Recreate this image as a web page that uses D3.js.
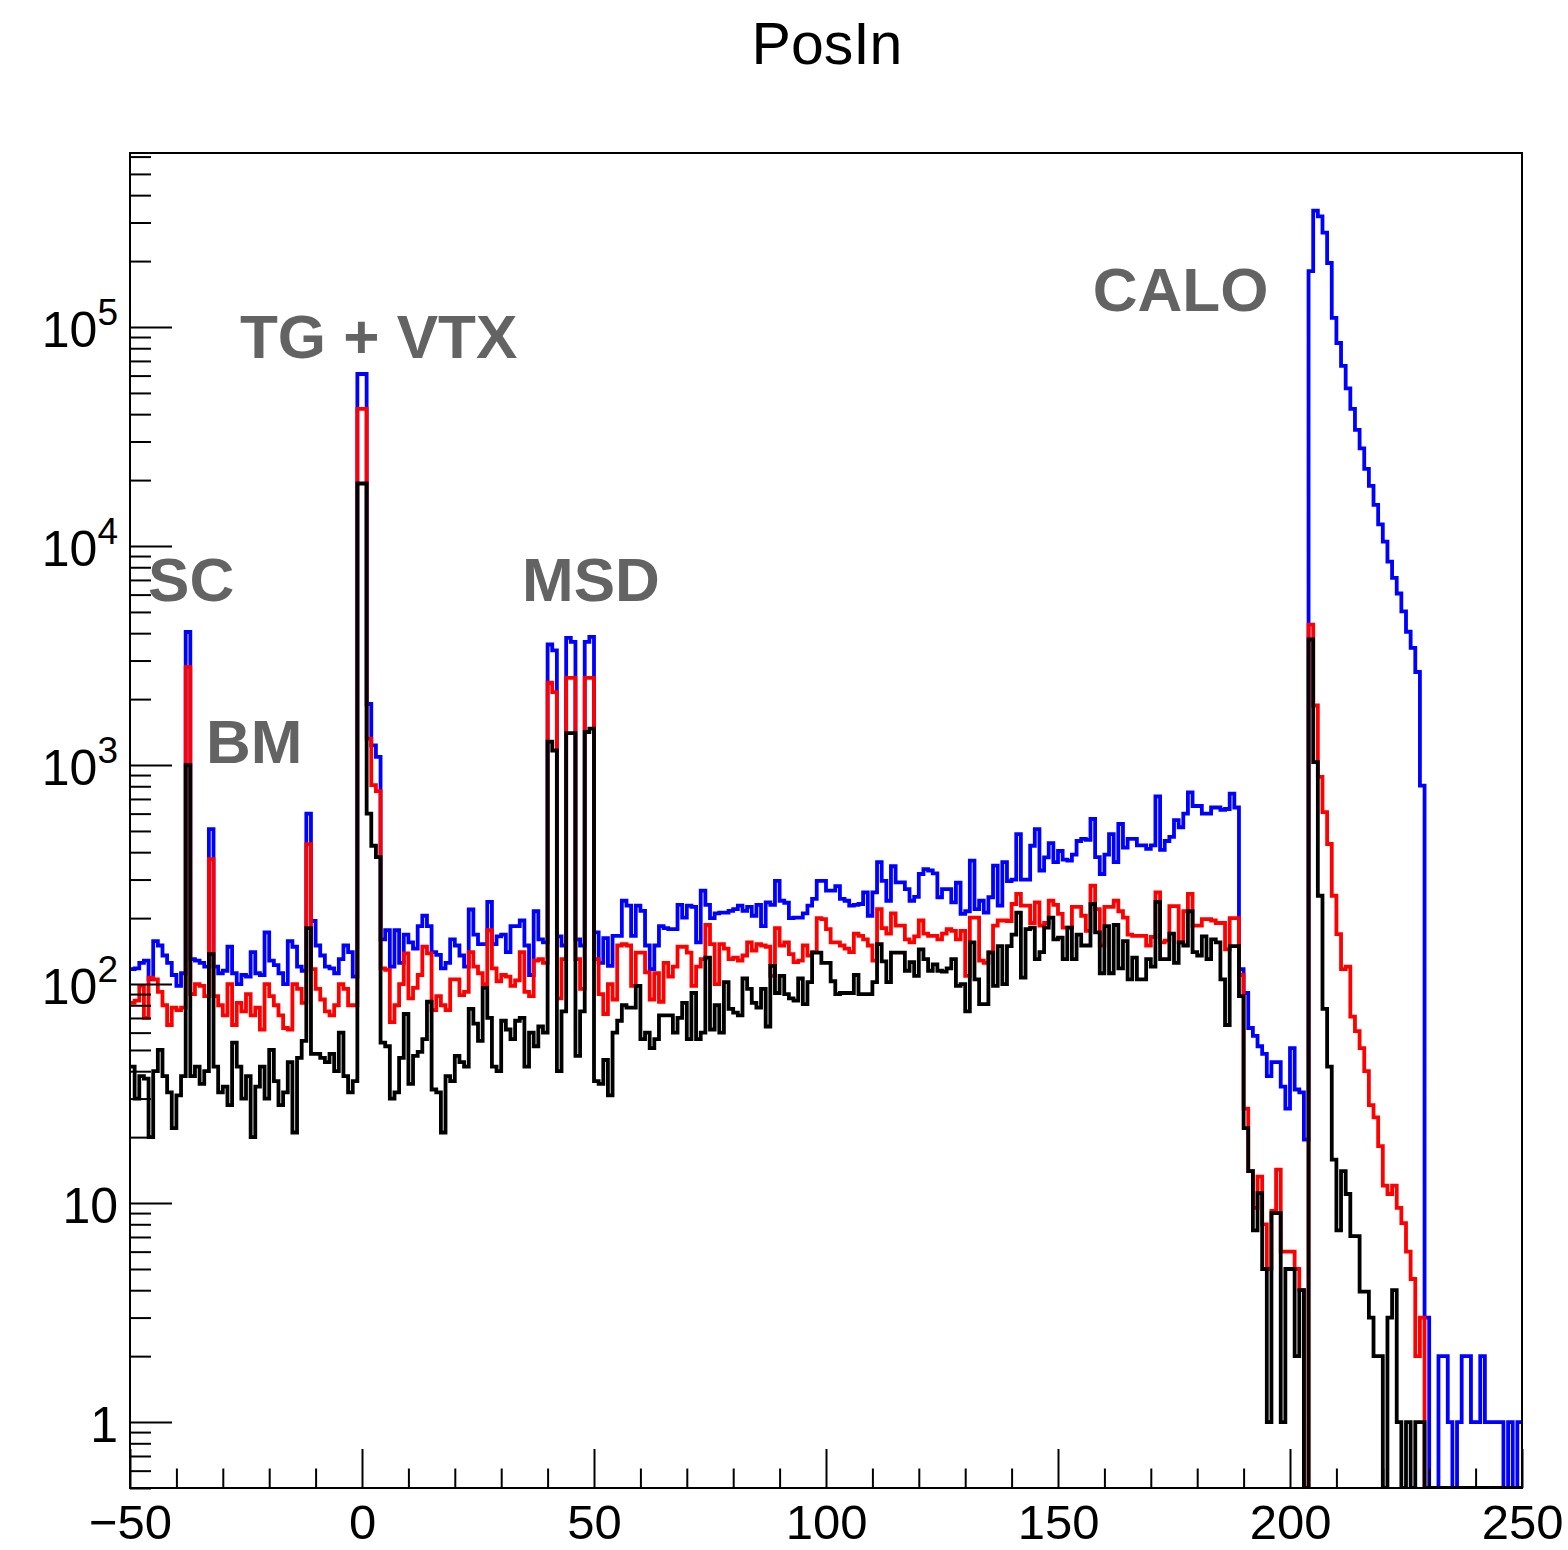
<!DOCTYPE html>
<html>
<head>
<meta charset="utf-8">
<script src="https://cdn.jsdelivr.net/npm/d3@7"></script>
<style>
  body { margin: 0; background: #fff; }
  svg { display: block; font-family: "Liberation Sans", Arial, Helvetica, sans-serif; }
</style>
</head>
<body>
<svg width="1568" height="1550"></svg>
<script>
// Histogram binning: 300 bins of width 1 from -50 to 250
const xLow = -50, binWidth = 1;

// Blue series (all hits)
const blueCounts = [
  117, 118, 125, 128, 105, 157, 150, 135, 125, 110,
  98, 112, 4050, 130, 128, 125, 120, 510, 120, 112,
  115, 148, 112, 100, 110, 108, 140, 112, 110, 172,
  128, 122, 112, 100, 157, 148, 120, 115, 600, 194,
  150, 135, 120, 118, 112, 130, 150, 140, 108, 61000,
  61000, 1900, 1230, 1090, 160, 176, 120, 176, 125, 168,
  155, 145, 184, 205, 184, 140, 136, 118, 125, 160,
  150, 135, 120, 219, 168, 152, 152, 237, 152, 165,
  168, 140, 184, 184, 195, 150, 110, 215, 160, 155,
  3550, 3340, 165, 150, 3810, 3650, 160, 150, 3650, 3845,
  172, 125, 162, 121, 166, 166, 240, 228, 166, 228,
  216, 150, 117, 150, 184, 180, 178, 178, 230, 201,
  228, 225, 155, 267, 230, 200, 210, 212, 212, 216,
  220, 228, 216, 225, 205, 230, 184, 236, 230, 296,
  240, 235, 200, 201, 201, 210, 228, 245, 296, 296,
  267, 267, 280, 245, 240, 228, 230, 232, 262, 205,
  262, 360, 296, 240, 345, 291, 291, 271, 240, 250,
  318, 335, 330, 320, 249, 271, 271, 236, 290, 209,
  215, 366, 220, 240, 212, 249, 347, 228, 360, 295,
  300, 484, 300, 300, 428, 510, 330, 379, 440, 360,
  405, 370, 366, 390, 450, 460, 455, 567, 380, 318,
  390, 484, 360, 538, 420, 460, 460, 430, 430, 414,
  430, 720, 410, 450, 470, 560, 520, 600, 750, 650,
  650, 600, 600, 640, 640, 625, 630, 740, 640, 117,
  91, 63, 58, 52, 48, 38, 44, 44, 34, 27,
  51, 33, 32, 19.5, 180000, 340000, 320000, 270000, 196000, 110000,
  84500, 66400, 52500, 42300, 33900, 27900, 22500, 18800, 15400, 12560,
  10470, 8480, 7160, 6070, 5030, 4060, 3430, 2660, 806, 3,
  0, 0, 2, 2, 1, 0, 1, 2, 2, 1,
  1, 2, 1, 1, 1, 1, 0, 1, 0, 1
];

// Red series
const redCounts = [
  82, 84, 98, 70, 107, 105, 92, 80, 65, 78,
  76, 78, 2800, 90, 100, 98, 88, 372, 88, 80,
  72, 100, 65, 82, 75, 90, 72, 78, 62, 100,
  88, 80, 72, 63, 62, 100, 95, 82, 435, 117,
  95, 85, 75, 72, 80, 100, 95, 80, 80, 42300,
  42300, 1320, 810, 760, 118, 116, 67, 80, 100, 138,
  86, 96, 110, 148, 138, 76, 88, 80, 76, 105,
  105, 89, 92, 140, 120, 112, 100, 176, 118, 103,
  110, 108, 98, 104, 140, 92, 88, 128, 130, 125,
  2375, 2150, 86, 130, 2500, 2500, 130, 95, 2500, 2500,
  130, 90, 73, 100, 85, 150, 152, 150, 98, 139,
  139, 113, 85, 112, 83, 125, 108, 120, 148, 148,
  139, 98, 120, 130, 186, 152, 100, 152, 145, 130,
  132, 128, 135, 155, 142, 152, 150, 148, 109, 180,
  150, 155, 137, 126, 128, 150, 135, 140, 200, 198,
  178, 155, 155, 150, 145, 140, 170, 166, 160, 150,
  128, 220, 180, 170, 210, 185, 185, 160, 155, 165,
  195, 170, 166, 166, 160, 170, 178, 175, 160, 175,
  109, 201, 201, 128, 125, 140, 185, 195, 195, 194,
  232, 258, 228, 228, 190, 236, 185, 190, 240, 230,
  209, 181, 181, 225, 225, 205, 175, 281, 220, 150,
  225, 225, 240, 215, 201, 168, 166, 166, 166, 150,
  164, 262, 155, 158, 227, 227, 155, 215, 258, 185,
  185, 198, 198, 195, 190, 190, 144, 200, 200, 110,
  27, 14, 9.5, 13.2, 8, 5, 9.2, 14.2, 6, 6,
  6, 5, 4, 0, 4380, 1870, 883, 609, 436, 253,
  169, 117, 120, 71, 61, 51, 40, 28, 24.6, 18.2,
  12, 11, 12, 9.5, 8.1, 6, 4.5, 2, 3, 0,
  0, 0, 0, 0, 0, 0, 0, 0, 0, 0,
  0, 0, 0, 0, 0, 0, 0, 0, 0, 0
];

// Black series
const blackCounts = [
  42, 30, 38, 37, 20, 40, 50, 38, 32, 22,
  31, 38, 1000, 38, 42, 35, 40, 137, 42, 32,
  34, 28, 54, 42, 30, 38, 20, 34, 42, 30,
  50, 36, 28, 32, 44, 21, 46, 55, 180, 48,
  48, 46, 44, 48, 40, 60, 38, 32, 36, 19300,
  19300, 600, 428, 380, 54, 52, 30, 32, 46, 73,
  35, 47, 49, 56, 83, 33, 32, 21, 38, 36,
  47, 44, 42, 77, 66, 55, 96, 70, 42, 40,
  68, 62, 56, 68, 70, 42, 60, 52, 64, 60,
  1280, 1165, 40, 75, 1400, 1400, 47, 75, 1415, 1465,
  36, 35, 45, 31, 60, 68, 80, 78, 78, 98,
  56, 60, 51, 56, 72, 72, 72, 60, 70, 82,
  56, 91, 56, 60, 132, 62, 80, 60, 102, 77,
  74, 72, 106, 95, 82, 78, 95, 64, 121, 91,
  109, 90, 86, 84, 106, 81, 102, 139, 139, 125,
  125, 103, 90, 91, 91, 91, 110, 90, 90, 90,
  102, 152, 127, 102, 139, 139, 139, 115, 126, 109,
  144, 130, 115, 123, 115, 114, 118, 130, 98, 100,
  75, 155, 105, 81, 81, 139, 98, 149, 100, 149,
  168, 212, 107, 178, 181, 130, 140, 181, 201, 160,
  163, 130, 181, 130, 168, 150, 150, 232, 172, 112,
  184, 112, 186, 118, 157, 105, 132, 105, 105, 130,
  120, 237, 130, 130, 170, 125, 155, 150, 215, 140,
  135, 165, 130, 160, 155, 105, 65, 149, 149, 88,
  22, 14, 7.5, 11.1, 5, 1, 9, 9, 1, 5,
  5, 2, 4, 0, 3750, 1030, 253, 77, 42, 15.8,
  7.5, 14, 11, 7.06, 7.06, 3.94, 3.94, 3, 2, 2,
  0, 3, 4, 1, 0, 1, 0, 1, 1, 0,
  0, 0, 0, 0, 0, 0, 0, 0, 0, 0,
  0, 0, 0, 0, 0, 0, 0, 0, 0, 0
];

// Axis ticks
const xTickValues = [-50, 0, 50, 100, 150, 200, 250];
const xTickLabels = ["\u221250", "0", "50", "100", "150", "200", "250"];
const yTickExponents = [0, 1, 2, 3, 4, 5];

// Detector labels (anchored at x position / count level of their baseline)
const labels = [
  { text: "SC", x: -46.1, y: 5600 },
  { text: "BM", x: -33.6, y: 1020 },
  { text: "TG + VTX", x: -26.3, y: 72000 },
  { text: "MSD", x: 34.5, y: 5600 },
  { text: "CALO", x: 157.5, y: 118000 }
];

const frame = { left: 130, right: 1522, top: 153, bottom: 1488 };
const yMin = 0.5, yMax = 623000;

const svg = d3.select("svg");

const x = d3.scaleLinear()
  .domain([xLow, xLow + binWidth * blueCounts.length])
  .range([frame.left, frame.right]);

const y = d3.scaleLog()
  .domain([yMin, yMax])
  .range([frame.bottom, frame.top]);

// Title
svg.append("text")
  .attr("x", 827)
  .attr("y", 64)
  .attr("text-anchor", "middle")
  .attr("font-size", 59)
  .text("PosIn");

svg.append("clipPath").attr("id", "frameClip")
  .append("rect")
  .attr("x", frame.left).attr("y", frame.top)
  .attr("width", frame.right - frame.left)
  .attr("height", frame.bottom - frame.top);

// step outline of a histogram
function stepPath(counts) {
  const p = d3.path();
  counts.forEach((v, i) => {
    const x0 = x(xLow + i * binWidth), x1 = x(xLow + (i + 1) * binWidth);
    const yy = y(Math.max(v, yMin));
    if (i === 0) p.moveTo(x0, yy); else p.lineTo(x0, yy);
    p.lineTo(x1, yy);
  });
  return p.toString();
}

const plot = svg.append("g").attr("clip-path", "url(#frameClip)");
[[blueCounts, "#0000ff"], [redCounts, "#ff0000"], [blackCounts, "#000000"]].forEach(([counts, color]) => {
  plot.append("path")
    .attr("d", stepPath(counts))
    .attr("fill", "none")
    .attr("stroke", color)
    .attr("stroke-width", 3.8)
    .attr("stroke-linejoin", "miter");
});

// Y axis (ticks pointing into the frame)
const yMinor = [];
for (let e = -1; e <= 5; e++) {
  for (let d = 2; d <= 9; d++) {
    const v = d * Math.pow(10, e);
    if (v >= yMin && v <= yMax) yMinor.push(v);
  }
}
svg.append("g")
  .attr("transform", `translate(${frame.left},0)`)
  .call(d3.axisLeft(y).tickValues(yMinor).tickSize(-21).tickFormat(""));
const yMajorAxis = svg.append("g")
  .attr("transform", `translate(${frame.left},0)`)
  .call(d3.axisLeft(y)
    .tickValues(yTickExponents.map(e => Math.pow(10, e)))
    .tickSize(-42)
    .tickPadding(12));

yMajorAxis.selectAll("text")
  .attr("font-size", 50)
  .attr("font-family", "Liberation Sans, Arial, sans-serif")
  .attr("fill", "#000")
  .attr("dy", "0.38em")
  .each(function(d) {
    const e = Math.round(Math.log10(d));
    const t = d3.select(this).text(null);
    if (e === 0) { t.text("1"); return; }
    if (e === 1) { t.text("10"); return; }
    t.append("tspan").text("10");
    t.append("tspan").attr("dy", "-0.58em").attr("font-size", 37).text(e);
  });

// X axis (ticks pointing into the frame)
const xMinor = d3.range(-40, 250, 10).filter(v => v % 50 !== 0);
svg.append("g")
  .attr("transform", `translate(0,${frame.bottom})`)
  .call(d3.axisBottom(x).tickValues(xMinor).tickSize(-19.5).tickFormat(""));
const xMajorAxis = svg.append("g")
  .attr("transform", `translate(0,${frame.bottom})`)
  .call(d3.axisBottom(x)
    .tickValues(xTickValues)
    .tickSize(-39)
    .tickPadding(16)
    .tickFormat((d, i) => xTickLabels[i]));
xMajorAxis.selectAll("text")
  .attr("font-size", 49)
  .attr("font-family", "Liberation Sans, Arial, sans-serif")
  .attr("fill", "#000");

svg.selectAll(".domain").remove();
svg.selectAll(".tick line").attr("stroke", "#000").attr("stroke-width", 2);

// Frame
svg.append("rect")
  .attr("x", frame.left).attr("y", frame.top)
  .attr("width", frame.right - frame.left)
  .attr("height", frame.bottom - frame.top)
  .attr("fill", "none")
  .attr("stroke", "#000")
  .attr("stroke-width", 2);

// Detector labels
svg.append("g").selectAll("text")
  .data(labels)
  .join("text")
    .attr("x", d => x(d.x))
    .attr("y", d => y(d.y))
    .attr("font-size", 62)
    .attr("font-weight", "bold")
    .attr("fill", "#636363")
    .text(d => d.text);
</script>
</body>
</html>
